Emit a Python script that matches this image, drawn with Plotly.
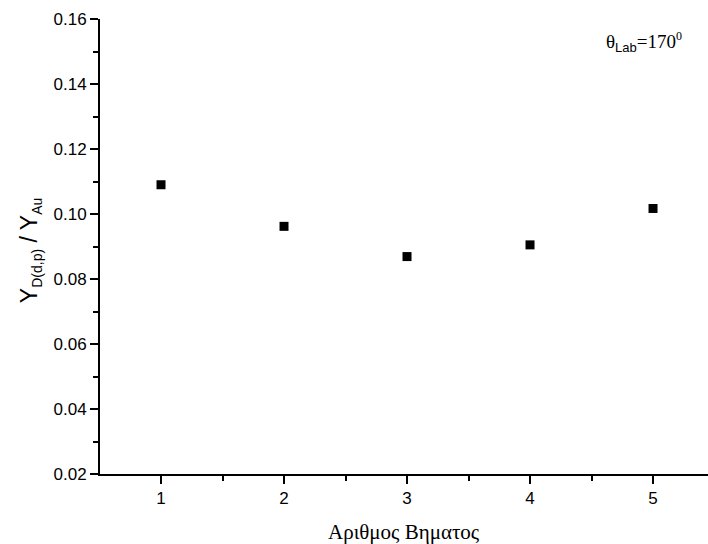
import plotly.graph_objects as go

steps = [1, 2, 3, 4, 5]
ratio = [0.109, 0.0962, 0.0869, 0.0905, 0.1017]
x_ticks = [1, 2, 3, 4, 5]
y_ticks = [0.02, 0.04, 0.06, 0.08, 0.10, 0.12, 0.14, 0.16]

fig = go.Figure()
fig.add_trace(go.Scatter(
    x=steps, y=ratio, mode="markers",
    marker=dict(symbol="square", size=9, color="black"),
    showlegend=False,
))

fig.update_layout(
    width=708, height=544,
    margin=dict(l=100, r=0, t=19, b=70),
    paper_bgcolor="white", plot_bgcolor="white",
    font=dict(family="Liberation Sans, Arial", color="black"),
)
fig.update_xaxes(
    range=[0.504, 5.447], tickvals=x_ticks, ticktext=[str(v) for v in x_ticks],
    showgrid=False, zeroline=False,
    showline=True, linecolor="black", linewidth=2,
    ticks="outside", ticklen=8, tickwidth=2, tickcolor="black",
    tickfont=dict(size=17, family="Liberation Sans, Arial"),
    minor=dict(dtick=0.5, tick0=0.5, ticks="outside", ticklen=5, tickwidth=2, tickcolor="black"),
)
fig.update_yaxes(
    range=[0.02, 0.16], tickvals=y_ticks, ticktext=["%.2f" % v for v in y_ticks],
    showgrid=False, zeroline=False,
    showline=True, linecolor="black", linewidth=2,
    ticks="outside", ticklen=8, tickwidth=2, tickcolor="black",
    tickfont=dict(size=17, family="Liberation Sans, Arial"),
    minor=dict(dtick=0.01, tick0=0.0, ticks="outside", ticklen=5, tickwidth=2, tickcolor="black"),
)

fig.add_annotation(
    text=("Y<sub><span style='font-size:14px'>D(d,p)</span></sub> / "
          "Y<sub><span style='font-size:14px'>Au</span></sub>"),
    xref="paper", yref="paper", x=-0.115, y=0.49, textangle=-90,
    showarrow=False, xanchor="center", yanchor="middle",
    font=dict(size=23, family="Liberation Sans, Arial", color="black"),
)
fig.add_annotation(
    text="Αριθμος Βηματος",
    xref="paper", yref="paper", x=0.5, y=-0.127,
    showarrow=False, xanchor="center", yanchor="middle",
    font=dict(size=21, family="Liberation Serif, Times New Roman", color="black"),
)
fig.add_annotation(
    text=("θ<sub><span style='font-family:Liberation Sans, Arial;font-size:13px'>Lab</span></sub>"
          "=170<sup><span style='font-size:12px'>0</span></sup>"),
    xref="paper", yref="paper", x=0.895, y=0.95,
    showarrow=False, xanchor="center", yanchor="middle",
    font=dict(size=19, family="Liberation Serif, Times New Roman", color="black"),
)

fig.write_html("out.html")
